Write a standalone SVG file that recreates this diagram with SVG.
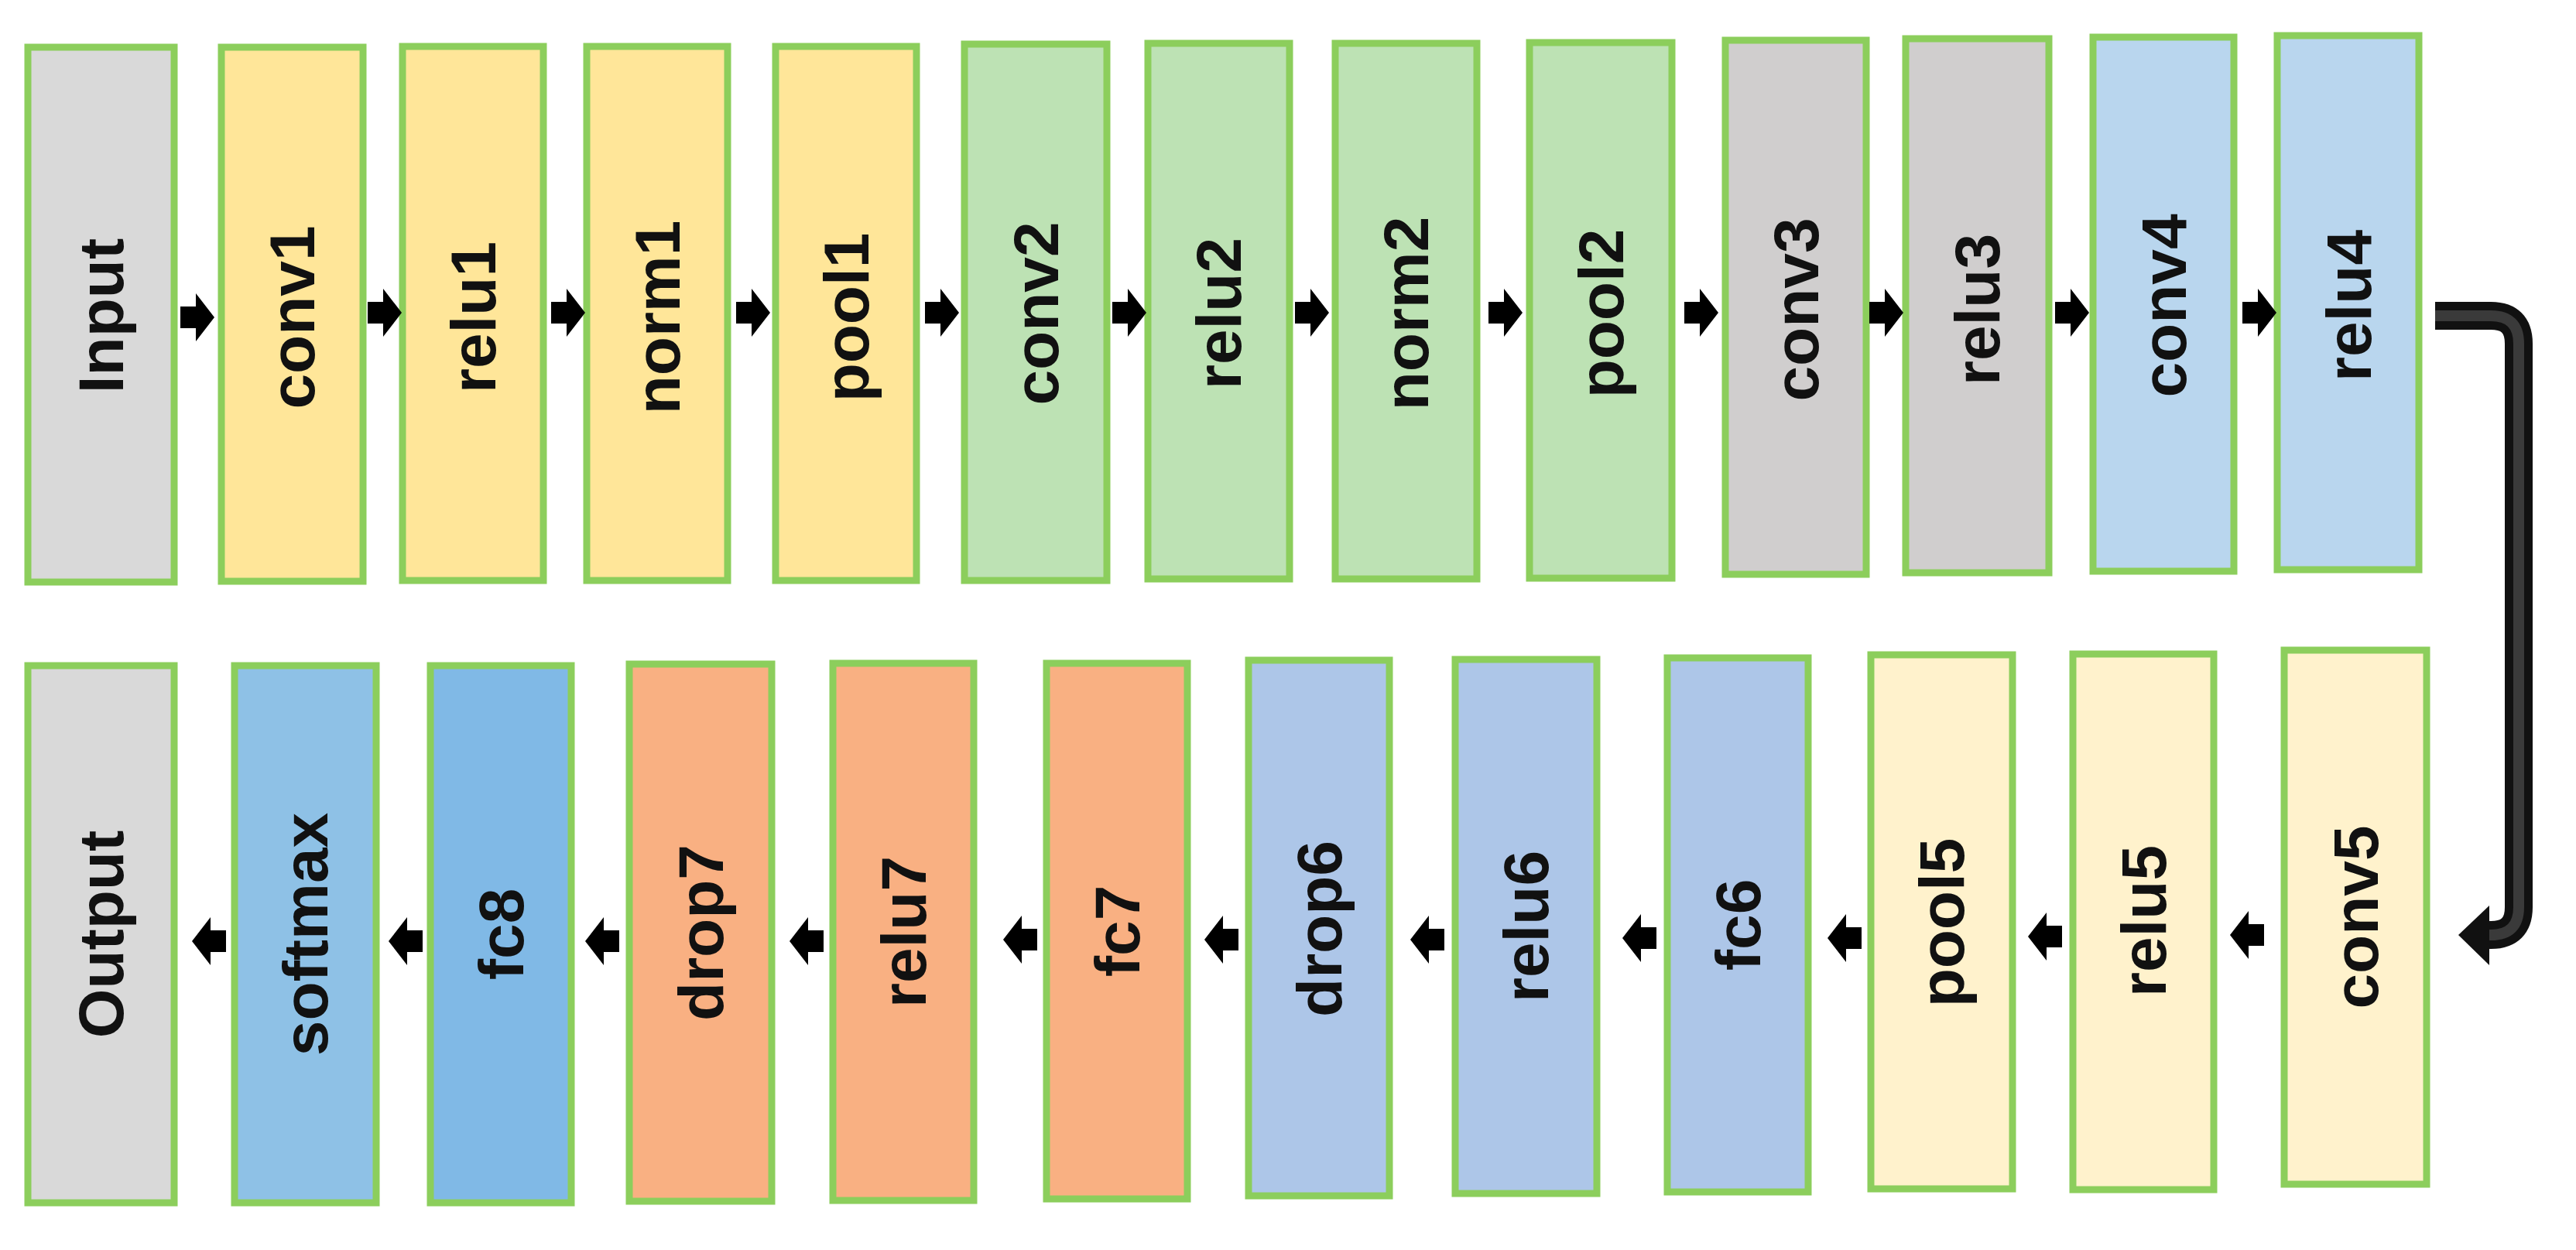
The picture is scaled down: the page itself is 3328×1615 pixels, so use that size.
<svg xmlns="http://www.w3.org/2000/svg" width="3328" height="1615" viewBox="0 0 3328 1615">
<style>
.b{stroke:#8cce5c;stroke-width:9}
.t{font-family:"Liberation Sans",Arial,sans-serif;font-weight:bold;font-size:82px;fill:#111;text-anchor:middle;dominant-baseline:central}
.gr{fill:#d9d9d9}.ye{fill:#ffe699}.gn{fill:#bde2b4}.g2{fill:#d0cece}.bl{fill:#b9d6ee}.py{fill:#fff2cc}.bg{fill:#adc6e8}.or{fill:#f9b082}.sb{fill:#8ec1e6}
</style>
<defs>
<path id="ar" d="M0,-14 H20 V-31 L44,0 L20,31 V14 H0 Z" fill="#000"/>
</defs>
<rect width="3328" height="1615" fill="#fff"/>
<g id="n-input"><rect class="b gr" x="36" y="61" width="189" height="691"/><text class="t" transform="translate(130,408) rotate(-90)">Input</text></g>
<g id="n-conv1"><rect class="b ye" x="286" y="61" width="183" height="690"/><text class="t" transform="translate(377,410) rotate(-90)">conv1</text></g>
<g id="n-relu1"><rect class="b ye" x="520" y="60" width="182" height="690"/><text class="t" transform="translate(611,410) rotate(-90)">relu1</text></g>
<g id="n-norm1"><rect class="b ye" x="758" y="60" width="182" height="690"/><text class="t" transform="translate(849,410) rotate(-90)">norm1</text></g>
<g id="n-pool1"><rect class="b ye" x="1002" y="60" width="182" height="690"/><text class="t" transform="translate(1093,410) rotate(-90)">pool1</text></g>
<g id="n-conv2"><rect class="b gn" x="1246" y="57" width="184" height="693"/><text class="t" transform="translate(1338,405) rotate(-90)">conv2</text></g>
<g id="n-relu2"><rect class="b gn" x="1483" y="56" width="183" height="692"/><text class="t" transform="translate(1574,405) rotate(-90)">relu2</text></g>
<g id="n-norm2"><rect class="b gn" x="1725" y="56" width="183" height="692"/><text class="t" transform="translate(1816,405) rotate(-90)">norm2</text></g>
<g id="n-pool2"><rect class="b gn" x="1976" y="55" width="184" height="692"/><text class="t" transform="translate(2068,405) rotate(-90)">pool2</text></g>
<g id="n-conv3"><rect class="b g2" x="2229" y="52" width="182" height="690"/><text class="t" transform="translate(2320,400) rotate(-90)">conv3</text></g>
<g id="n-relu3"><rect class="b g2" x="2462" y="50" width="185" height="690"/><text class="t" transform="translate(2554,400) rotate(-90)">relu3</text></g>
<g id="n-conv4"><rect class="b bl" x="2704" y="48" width="182" height="690"/><text class="t" transform="translate(2795,395) rotate(-90)">conv4</text></g>
<g id="n-relu4"><rect class="b bl" x="2942" y="46" width="183" height="690"/><text class="t" transform="translate(3034,395) rotate(-90)">relu4</text></g>

<g id="n-output"><rect class="b gr" x="36" y="860" width="189" height="694"/><text class="t" transform="translate(130,1207) rotate(-90)">Output</text></g>
<g id="n-softmax"><rect class="b sb" x="303" y="860" width="183" height="694"/><text class="t" transform="translate(394,1207) rotate(-90)">softmax</text></g>
<g id="n-fc8"><rect class="b sb" x="556" y="860" width="182" height="694" style="fill:#80b9e6"/><text class="t" transform="translate(647,1207) rotate(-90)">fc8</text></g>
<g id="n-drop7"><rect class="b or" x="813" y="858" width="184" height="694"/><text class="t" transform="translate(905,1205) rotate(-90)">drop7</text></g>
<g id="n-relu7"><rect class="b or" x="1076" y="857" width="182" height="694"/><text class="t" transform="translate(1167,1204) rotate(-90)">relu7</text></g>
<g id="n-fc7"><rect class="b or" x="1352" y="857" width="182" height="692"/><text class="t" transform="translate(1443,1203) rotate(-90)">fc7</text></g>
<g id="n-drop6"><rect class="b bg" x="1613" y="853" width="182" height="692"/><text class="t" transform="translate(1704,1200) rotate(-90)">drop6</text></g>
<g id="n-relu6"><rect class="b bg" x="1880" y="852" width="183" height="690"/><text class="t" transform="translate(1971,1197) rotate(-90)">relu6</text></g>
<g id="n-fc6"><rect class="b bg" x="2154" y="850" width="182" height="690"/><text class="t" transform="translate(2245,1195) rotate(-90)">fc6</text></g>
<g id="n-pool5"><rect class="b py" x="2417" y="846" width="183" height="690"/><text class="t" transform="translate(2508,1192) rotate(-90)">pool5</text></g>
<g id="n-relu5"><rect class="b py" x="2678" y="845" width="182" height="692"/><text class="t" transform="translate(2769,1190) rotate(-90)">relu5</text></g>
<g id="n-conv5"><rect class="b py" x="2951" y="840" width="184" height="690"/><text class="t" transform="translate(3043,1185) rotate(-90)">conv5</text></g>

<g id="connectors">
<use href="#ar" x="233" y="410"/>
<use href="#ar" x="475" y="404"/>
<use href="#ar" x="712" y="404"/>
<use href="#ar" x="951" y="404"/>
<use href="#ar" x="1195" y="404"/>
<use href="#ar" x="1437" y="404"/>
<use href="#ar" x="1673" y="404"/>
<use href="#ar" x="1923" y="404"/>
<use href="#ar" x="2176" y="404"/>
<use href="#ar" x="2415" y="404"/>
<use href="#ar" x="2655" y="404"/>
<use href="#ar" x="2897" y="404"/>
<use href="#ar" transform="translate(2925,1208) scale(-1,1)"/>
<use href="#ar" transform="translate(2664,1210) scale(-1,1)"/>
<use href="#ar" transform="translate(2405,1212) scale(-1,1)"/>
<use href="#ar" transform="translate(2140,1212) scale(-1,1)"/>
<use href="#ar" transform="translate(1866,1214) scale(-1,1)"/>
<use href="#ar" transform="translate(1600,1214) scale(-1,1)"/>
<use href="#ar" transform="translate(1340,1214) scale(-1,1)"/>
<use href="#ar" transform="translate(1064,1216) scale(-1,1)"/>
<use href="#ar" transform="translate(800,1216) scale(-1,1)"/>
<use href="#ar" transform="translate(546,1216) scale(-1,1)"/>
<use href="#ar" transform="translate(292,1216) scale(-1,1)"/>
<path d="M3146,408 H3218 Q3254,408 3254,444 V1172 Q3254,1208 3218,1208 H3210" fill="none" stroke="#111" stroke-width="36"/>
<path d="M3146,408 H3218 Q3254,408 3254,444 V1172 Q3254,1208 3218,1208 H3210" fill="none" stroke="#3a3a3a" stroke-width="14"/>
<polygon points="3176,1208 3216,1170 3216,1247" fill="#111"/>
</g>
</svg>
